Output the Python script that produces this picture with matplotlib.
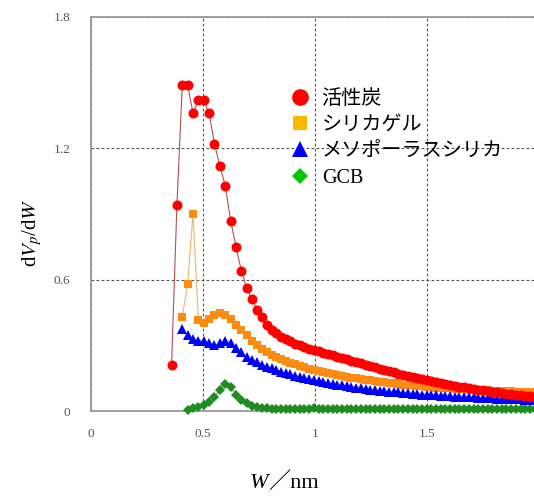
import matplotlib
matplotlib.use("Agg")
import matplotlib.pyplot as plt
from matplotlib.lines import Line2D

plt.rcParams["font.family"] = ["Liberation Serif", "Noto Sans CJK JP"]
plt.rcParams["mathtext.fontset"] = "stix"

# --- 細孔径 W (nm) ---
W = [0.360, 0.384, 0.408, 0.432, 0.456, 0.480, 0.504, 0.528, 0.552, 0.576,
     0.600, 0.624, 0.648, 0.672, 0.696, 0.720, 0.744, 0.765, 0.786, 0.807,
     0.828, 0.849, 0.870, 0.891, 0.912, 0.933, 0.954, 0.975, 0.996, 1.017,
     1.038, 1.059, 1.080, 1.101, 1.122, 1.143, 1.164, 1.185, 1.206, 1.227,
     1.248, 1.269, 1.290, 1.311, 1.332, 1.353, 1.374, 1.395, 1.416, 1.437,
     1.458, 1.479, 1.500, 1.521, 1.542, 1.563, 1.584, 1.605, 1.626, 1.647,
     1.668, 1.689, 1.710, 1.731, 1.752, 1.773, 1.794, 1.815, 1.836, 1.857,
     1.878, 1.899, 1.920, 1.941, 1.962, 1.983]

# 活性炭 (W[0:] に対応)
carbon = [0.21, 0.94, 1.49, 1.49, 1.36, 1.42, 1.42, 1.36, 1.22, 1.12,
          1.03, 0.87, 0.75, 0.64, 0.56, 0.51, 0.46, 0.43, 0.395, 0.37,
          0.355, 0.34, 0.328, 0.318, 0.308, 0.300, 0.292, 0.285, 0.278, 0.272,
          0.266, 0.260, 0.254, 0.248, 0.242, 0.236, 0.230, 0.224, 0.218, 0.212,
          0.206, 0.200, 0.194, 0.188, 0.182, 0.176, 0.171, 0.166, 0.161, 0.156,
          0.151, 0.146, 0.142, 0.137, 0.133, 0.128, 0.124, 0.120, 0.116, 0.112,
          0.108, 0.105, 0.101, 0.098, 0.095, 0.092, 0.089, 0.086, 0.083, 0.080,
          0.078, 0.075, 0.073, 0.070, 0.068, 0.066]

# シリカゲル (W[2:] に対応)
silica_gel = [0.43, 0.58, 0.90, 0.415, 0.40, 0.42, 0.44, 0.448,
              0.44, 0.42, 0.395, 0.37, 0.345, 0.322, 0.302, 0.285, 0.270, 0.258,
              0.248, 0.238, 0.229, 0.221, 0.214, 0.207, 0.200, 0.194, 0.189, 0.184,
              0.179, 0.174, 0.169, 0.165, 0.161, 0.157, 0.153, 0.149, 0.146, 0.143,
              0.140, 0.137, 0.134, 0.131, 0.128, 0.126, 0.123, 0.121, 0.119, 0.117,
              0.115, 0.113, 0.111, 0.109, 0.107, 0.106, 0.104, 0.103, 0.101, 0.100,
              0.099, 0.098, 0.097, 0.096, 0.095, 0.094, 0.093, 0.092, 0.091, 0.090,
              0.090, 0.089, 0.088, 0.088, 0.087, 0.087]

# メソポーラスシリカ (W[2:] に対応)
meso_silica = [0.375, 0.345, 0.327, 0.320, 0.322, 0.310, 0.300, 0.310,
               0.322, 0.310, 0.290, 0.268, 0.248, 0.234, 0.222, 0.212, 0.203, 0.195,
               0.187, 0.180, 0.173, 0.167, 0.161, 0.156, 0.151, 0.146, 0.141, 0.137,
               0.133, 0.129, 0.125, 0.121, 0.117, 0.113, 0.110, 0.107, 0.104, 0.101,
               0.098, 0.096, 0.093, 0.091, 0.089, 0.087, 0.085, 0.083, 0.081, 0.079,
               0.077, 0.075, 0.074, 0.072, 0.071, 0.070, 0.068, 0.067, 0.066, 0.065,
               0.064, 0.063, 0.062, 0.061, 0.060, 0.059, 0.058, 0.057, 0.056, 0.055,
               0.054, 0.054, 0.053, 0.052, 0.052, 0.051]

# GCB (W[3:] に対応)
gcb = [0.005, 0.012, 0.018, 0.026, 0.040, 0.062, 0.095,
       0.125, 0.110, 0.075, 0.050, 0.035, 0.025, 0.018, 0.014, 0.012, 0.011,
       0.010, 0.010, 0.009, 0.010, 0.011, 0.010, 0.009, 0.010, 0.012, 0.010,
       0.009, 0.009, 0.010, 0.009, 0.009, 0.008, 0.009, 0.009, 0.008, 0.009,
       0.009, 0.008, 0.008, 0.009, 0.008, 0.008, 0.009, 0.008, 0.008, 0.008,
       0.009, 0.008, 0.008, 0.008, 0.008, 0.009, 0.008, 0.008, 0.008, 0.008,
       0.008, 0.008, 0.009, 0.008, 0.008, 0.008, 0.008, 0.008, 0.008, 0.008,
       0.008, 0.008, 0.008, 0.008, 0.008, 0.008]

labels = ["活性炭", "シリカゲル", "メソポーラスシリカ", "GCB"]
x_ticks = [0, 0.5, 1, 1.5]
x_tick_labels = ["0", "0.5", "1", "1.5"]
y_ticks = [0, 0.6, 1.2, 1.8]
y_tick_labels = ["0", "0.6", "1.2", "1.8"]

fig = plt.figure(figsize=(5.34, 4.97), dpi=100)
ax = fig.add_axes([0.1704, 0.1730, 0.8296, 0.7928])

# --- 曲線 ---
ax.plot(W[3:], gcb, color="#2a8a2a", lw=0.6, marker="D", ms=5.2,
        mfc="#1e8c1e", mec="#1e8c1e", mew=0, clip_on=False, zorder=3)
ax.plot(W[2:], silica_gel, color="#e8b870", lw=0.8, marker="s", ms=6.2,
        mfc="#ff8c10", mec="#ff8c10", mew=0, zorder=3)
ax.plot(W[2:], meso_silica, color="#5050c8", lw=0.6, marker="^", ms=7,
        mfc="#0000ff", mec="#0000ff", mew=0, zorder=4)
ax.plot(W, carbon, color="#b85050", lw=0.8, marker="o", ms=7.2,
        mfc="#ff0000", mec="#ff0000", mew=0, zorder=5)

ax.set_xlim(0, 1.98)
ax.set_ylim(0, 1.8)
ax.set_xticks(x_ticks)
ax.set_xticklabels(x_tick_labels)
ax.set_yticks(y_ticks)
ax.set_yticklabels(y_tick_labels)
ax.tick_params(axis="both", labelsize=9.5, colors="#555555", length=0)
ax.tick_params(axis="x", pad=12)
ax.tick_params(axis="y", pad=15)

ax.grid(True, color="#555555", linestyle=(0, (2.5, 2)), linewidth=0.8)
ax.set_axisbelow(True)
for side in ["left", "bottom", "top"]:
    ax.spines[side].set_color("#999999")
    ax.spines[side].set_linewidth(1.3)
ax.spines["right"].set_visible(False)

# --- 凡例 ---
handles = [
    Line2D([], [], ls="none", marker="o", ms=12, mfc="#ff0000", mew=0),
    Line2D([], [], ls="none", marker="s", ms=10.5, mfc="#ffb800", mew=0),
    Line2D([], [], ls="none", marker="^", ms=11, mfc="#0000ff", mew=0),
    Line2D([], [], ls="none", marker="D", ms=8.5, mfc="#00c800", mew=0),
]
ax.legend(handles, labels, loc="upper left", bbox_to_anchor=(0.525, 0.840),
          bbox_transform=fig.transFigure, frameon=False, fontsize=14.5,
          handlelength=1.0, handletextpad=0.55, labelspacing=0.36, borderpad=0)

# --- 軸ラベル ---
fig.text(32 / 534, 1 - 233 / 497, r"d$V_p$/d$W$", rotation=90,
         ha="center", va="center", fontsize=15)
fig.text(268 / 534, 1 - 483 / 497, "W", ha="right", va="center",
         fontsize=16, style="italic")
fig.text(268 / 534, 1 - 483 / 497, "／nm", ha="left", va="center",
         fontsize=16)

fig.savefig("out.png", dpi=100)
